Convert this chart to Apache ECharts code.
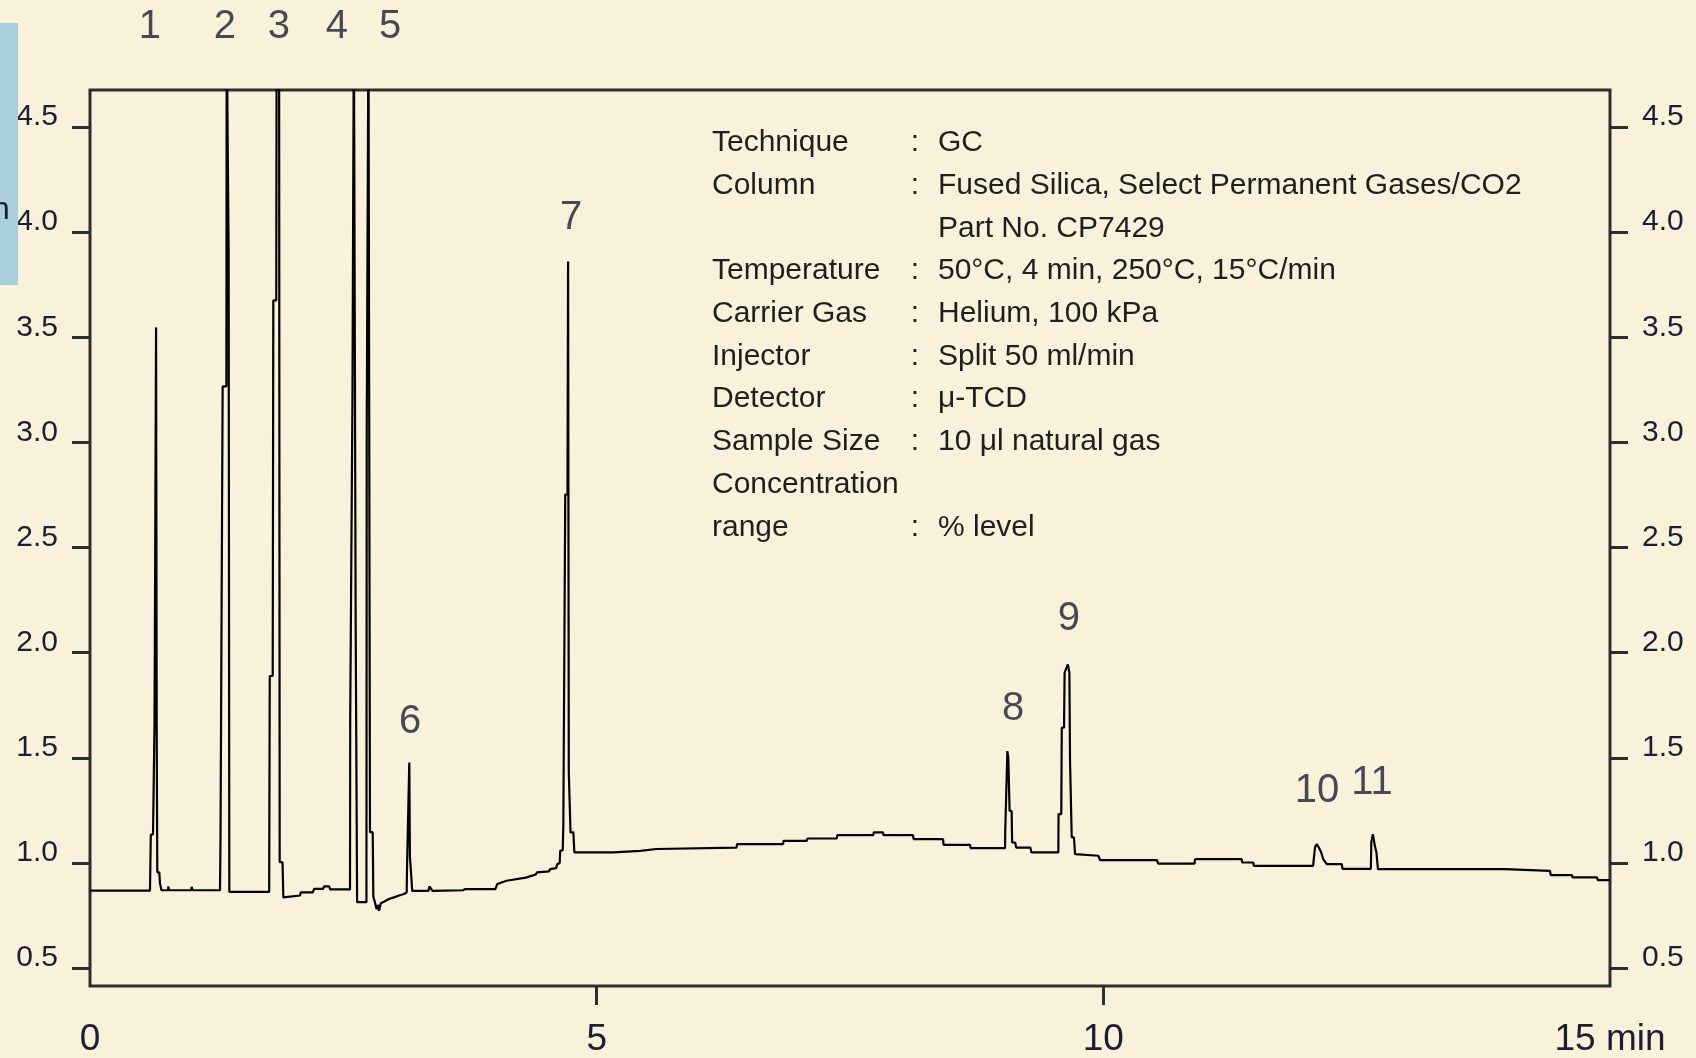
<!DOCTYPE html>
<html>
<head>
<meta charset="utf-8">
<title>GC chromatogram – natural gas on Select Permanent Gases/CO2</title>
<script src="https://cdn.jsdelivr.net/npm/echarts@6/dist/echarts.min.js"></script>
<style>
  html, body { margin: 0; padding: 0; background: #f9f1da; }
  #chart { width: 1696px; height: 1058px; }
</style>
</head>
<body>
<div id="chart"></div>
<script>
// Detector trace: [retention time (min), signal]
const trace = [
  [0, 0.868], [0.592, 0.868],
  // peak 1
  [0.600, 1.135], [0.622, 1.135], [0.637, 1.675], [0.652, 3.547], [0.658, 1.675],
  [0.664, 0.955], [0.684, 0.955], [0.690, 0.905], [0.705, 0.870],
  [0.770, 0.870], [0.773, 0.888], [0.780, 0.870], [1.000, 0.870], [1.003, 0.886], [1.012, 0.870],
  // peak 2
  [1.283, 0.870], [1.288, 1.121], [1.306, 1.121], [1.309, 3.266], [1.346, 3.266], [1.349, 5.0],
  [1.366, 5.0], [1.368, 3.910], [1.372, 3.910], [1.375, 0.862],
  // peak 3
  [1.768, 0.862], [1.774, 1.889], [1.803, 1.889], [1.809, 3.675], [1.838, 3.675], [1.842, 5.0],
  [1.866, 5.0], [1.872, 1.003], [1.900, 1.003], [1.908, 0.836],
  [2.073, 0.845], [2.080, 0.860], [2.200, 0.860], [2.210, 0.876], [2.300, 0.876],
  [2.310, 0.888], [2.360, 0.888], [2.370, 0.874],
  // peak 4
  [2.566, 0.874], [2.568, 1.692], [2.585, 1.692], [2.590, 3.219], [2.600, 3.219], [2.604, 5.0],
  [2.618, 5.0], [2.622, 2.110], [2.632, 2.110], [2.636, 0.813],
  // peak 5
  [2.728, 0.813], [2.731, 3.076], [2.745, 3.076], [2.748, 5.0], [2.758, 5.0], [2.763, 1.146],
  [2.790, 1.146], [2.796, 0.840], [2.815, 0.840], [2.829, 0.780],
  [2.845, 0.800], [2.852, 0.772], [2.870, 0.808], [2.900, 0.815], [2.950, 0.828],
  [3.000, 0.836], [3.050, 0.845], [3.100, 0.852], [3.125, 0.860],
  // peak 6
  [3.128, 0.962], [3.145, 0.962], [3.151, 1.477], [3.157, 1.033], [3.172, 1.033], [3.180, 0.867],
  [3.340, 0.867], [3.350, 0.888], [3.380, 0.867], [3.680, 0.870], [3.700, 0.875], [4.000, 0.875],
  [4.020, 0.900], [4.110, 0.915], [4.120, 0.923], [4.300, 0.930], [4.310, 0.939], [4.400, 0.945],
  [4.410, 0.955], [4.530, 0.960], [4.540, 0.970], [4.600, 0.975], [4.610, 0.994], [4.635, 1.000],
  [4.640, 1.057], [4.665, 1.060], [4.671, 1.176],
  // peak 7
  [4.682, 1.176], [4.690, 2.752], [4.712, 2.752], [4.718, 3.860], [4.725, 1.430], [4.737, 1.430],
  [4.742, 1.145], [4.770, 1.145], [4.780, 1.050],
  [5.164, 1.050], [5.170, 1.057], [5.430, 1.057], [5.435, 1.066], [5.590, 1.066], [5.595, 1.073],
  [6.380, 1.073], [6.385, 1.089], [6.839, 1.089], [6.845, 1.105], [7.073, 1.105], [7.080, 1.116],
  [7.369, 1.116], [7.375, 1.132], [7.730, 1.132], [7.735, 1.145], [7.826, 1.145], [7.830, 1.132],
  [8.122, 1.132], [8.128, 1.113], [8.418, 1.113], [8.424, 1.086], [8.684, 1.086], [8.690, 1.070],
  // peak 8
  [9.030, 1.070], [9.032, 1.152], [9.045, 1.152], [9.053, 1.532], [9.062, 1.500], [9.075, 1.247],
  [9.095, 1.247], [9.100, 1.097], [9.130, 1.097], [9.140, 1.073], [9.280, 1.073], [9.290, 1.050],
  // peak 9
  [9.556, 1.050], [9.558, 1.232], [9.585, 1.232], [9.590, 1.643], [9.612, 1.643], [9.618, 1.905],
  [9.650, 1.944], [9.665, 1.905], [9.671, 1.493], [9.684, 1.493], [9.688, 1.121], [9.710, 1.121],
  [9.721, 1.042], [9.737, 1.034], [9.951, 1.034], [9.967, 1.013], [10.530, 1.013], [10.540, 0.997],
  [10.900, 0.997], [10.905, 1.018], [11.366, 1.018], [11.370, 1.002], [11.480, 1.002],
  [11.485, 0.986], [12.070, 0.986],
  // peak 10
  [12.089, 1.075], [12.105, 1.089], [12.120, 1.095], [12.130, 1.070], [12.150, 1.050],
  [12.170, 1.018], [12.205, 0.994], [12.353, 0.994], [12.360, 0.972], [12.640, 0.972],
  // peak 11
  [12.645, 1.100], [12.660, 1.137], [12.672, 1.137], [12.680, 1.080], [12.695, 1.050],
  [12.710, 0.970], [13.964, 0.970], [13.970, 0.962], [14.408, 0.962], [14.415, 0.942],
  [14.625, 0.942], [14.630, 0.931], [14.872, 0.931], [14.880, 0.918], [15.000, 0.918]
];

// Peak numbering and where each number is written (time, signal)
const peakIds = ['1', '2', '3', '4', '5', '6', '7', '8', '9', '10', '11'];
const peakLabelTime = [0.592, 1.332, 1.865, 2.437, 2.961, 3.158, 4.747, 9.109, 9.661, 12.109, 12.652];
const peakLabelSignal = [4.975, 4.975, 4.975, 4.975, 4.975, 1.672, 4.066, 1.734, 2.159, 1.340, 1.380];

// Axis ticks
const yTickValues = [0.5, 1.0, 1.5, 2.0, 2.5, 3.0, 3.5, 4.0, 4.5];
const xTickValues = [5, 10];
const xLabelValues = [0, 5, 10, 15];

// Run conditions
const condLabels = ['Technique', 'Column', '', 'Temperature', 'Carrier Gas', 'Injector',
  'Detector', 'Sample Size', 'Concentration', 'range'];
const condValues = ['GC', 'Fused Silica, Select Permanent Gases/CO2', 'Part No. CP7429',
  '50°C, 4 min, 250°C, 15°C/min', 'Helium, 100 kPa', 'Split 50 ml/min', 'μ-TCD',
  '10 μl natural gas', '', '% level'];

const FONT = '"Liberation Sans", Arial, sans-serif';
const INK = '#1c1e32';
const FRAME = '#2e2e2e';
const Y_MIN = 0.4145, Y_MAX = 4.676;

function yAxisSide(pos) {
  return {
    type: 'value', position: pos, min: Y_MIN, max: Y_MAX,
    axisLine: { show: false }, splitLine: { show: false },
    axisTick: { show: true, customValues: yTickValues, length: 18,
      lineStyle: { color: FRAME, width: 3 } },
    // numbers sit just above their tick
    axisLabel: { customValues: yTickValues, margin: 32, fontSize: 30, fontFamily: FONT,
      color: INK, verticalAlign: 'bottom', lineHeight: 20,
      formatter: v => v.toFixed(1) }
  };
}

const graphics = [
  { type: 'rect', left: 0, top: 23, shape: { width: 18, height: 262 },
    style: { fill: '#a9cfdb' }, z: 10 },
  { type: 'text', x: -8, y: 210, z: 11,
    style: { text: 'n', font: '32px ' + FONT, fill: INK, align: 'left', verticalAlign: 'middle' } }
];
condLabels.forEach((lab, i) => {
  const y = 143 + i * 42.7;
  const base = { font: '30px ' + FONT, fill: '#1f1f1f', verticalAlign: 'middle' };
  if (lab) {
    graphics.push({ type: 'text', x: 712, y, style: Object.assign({ text: lab, align: 'left' }, base) });
  }
  if (lab && condValues[i]) {
    graphics.push({ type: 'text', x: 915, y, style: Object.assign({ text: ':', align: 'center' }, base) });
  }
  if (condValues[i]) {
    graphics.push({ type: 'text', x: 938, y, style: Object.assign({ text: condValues[i], align: 'left' }, base) });
  }
});

const chart = echarts.init(document.getElementById('chart'), null, { renderer: 'canvas' });
chart.setOption({
  backgroundColor: '#f9f1da',
  animation: false,
  grid: { left: 90, right: 86, top: 90, bottom: 71, show: true,
    borderColor: FRAME, borderWidth: 3, backgroundColor: 'transparent' },
  xAxis: {
    type: 'value', min: 0, max: 15,
    axisLine: { show: false }, splitLine: { show: false },
    axisTick: { show: true, customValues: xTickValues, length: 19,
      lineStyle: { color: FRAME, width: 3 } },
    axisLabel: { customValues: xLabelValues, margin: 35, fontSize: 37, fontFamily: FONT,
      color: INK, showMinLabel: true, showMaxLabel: true,
      formatter: v => (v === 15 ? '15 min' : String(v)) }
  },
  yAxis: [yAxisSide('left'), yAxisSide('right')],
  series: [
    {
      type: 'line', data: trace, yAxisIndex: 0, showSymbol: false, symbol: 'none',
      clip: true, silent: true, z: 3,
      lineStyle: { color: '#000000', width: 2.2 }
    },
    {
      type: 'scatter', yAxisIndex: 0, clip: false, silent: true, symbolSize: 1, z: 4,
      itemStyle: { color: 'rgba(0,0,0,0)' },
      data: peakIds.map((id, i) => ({ name: id, value: [peakLabelTime[i], peakLabelSignal[i]] })),
      label: { show: true, position: 'inside', formatter: '{b}', fontSize: 40,
        fontFamily: FONT, color: INK }
    }
  ],
  graphic: graphics
});
</script>
</body>
</html>
